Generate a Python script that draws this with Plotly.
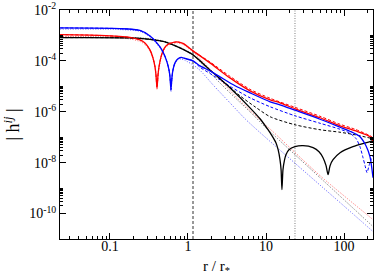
import plotly.graph_objects as go

# ---------------- data ----------------
r_black_solid = [0.023, 0.180, 0.326, 0.507, 0.789, 1.16, 1.91, 3.45, 6.24, 8.38, 10.6, 11.9, 13.4, 14.3,
                 15.1, 15.6, 16.0, 16.5, 17.3, 18.0, 19.7, 23.5, 29.8, 40.1, 47.8, 53.8, 58.8, 62.4,
                 66.2, 72.3, 88.9, 130, 215, 235]
h_black_solid = [8.20e-4, 7.98e-4, 6.97e-4, 5.56e-4, 3.23e-4, 1.72e-4, 4.43e-5, 8.73e-6, 1.43e-6, 5.31e-7,
                 1.97e-7, 1.15e-7, 6.08e-8, 3.23e-8, 1.31e-8, 5.31e-9, 8.73e-10, 5.31e-9, 1.31e-8, 2.06e-8,
                 3.23e-8, 4.24e-8, 4.64e-8, 3.87e-8, 2.70e-8, 1.57e-8, 7.62e-9, 3.38e-9, 7.62e-9, 1.31e-8,
                 2.47e-8, 4.24e-8, 6.66e-8, 7.29e-8]

r_black_dashed = [0.023, 0.180, 0.326, 0.507, 0.789, 1.16, 1.91, 2.98, 4.64, 7.23, 11.3, 23.5, 49.2, 88.9, 138, 235]
h_black_dashed = [8.20e-4, 7.98e-4, 6.97e-4, 5.56e-4, 3.23e-4, 1.72e-4, 4.43e-5, 1.37e-5, 4.24e-6, 1.57e-6,
                  6.37e-7, 3.09e-7, 1.97e-7, 1.57e-7, 1.25e-7, 8.73e-8]

r_black_dotted = [0.023, 0.180, 0.326, 0.507, 0.789, 1.16, 1.91, 3.45, 6.24, 10.3, 49.2, 235]
h_black_dotted = [8.57e-4, 8.35e-4, 7.43e-4, 5.82e-4, 3.38e-4, 1.72e-4, 3.38e-5, 5.56e-6, 1.0e-6, 2.15e-7,
                  2.58e-9, 3.09e-11]

r_red_solid = [0.023, 0.0744, 0.180, 0.242, 0.281, 0.326, 0.356, 0.378, 0.389, 0.401, 0.413, 0.425, 0.451,
               0.478, 0.522, 0.588, 0.723, 0.863, 1.16, 1.91, 3.45, 6.24, 11.3, 15.1, 23.5, 49.2, 88.9,
               138, 215, 235]
h_red_solid = [1.07e-3, 1.0e-3, 8.35e-4, 6.66e-4, 5.08e-4, 2.70e-4, 1.31e-4, 5.82e-5, 2.82e-5, 8.73e-6,
               2.82e-5, 5.82e-5, 1.43e-4, 2.47e-4, 3.87e-4, 4.85e-4, 5.56e-4, 4.85e-4, 2.47e-4, 8.35e-5,
               2.15e-5, 6.66e-6, 2.96e-6, 2.25e-6, 1.31e-6, 5.82e-7, 2.82e-7, 1.80e-7, 1.05e-7, 7.29e-8]

r_red_dashed = [0.023, 0.0744, 0.180, 0.242, 0.281, 0.326, 0.356, 0.378, 0.389, 0.401, 0.413, 0.425, 0.451,
                0.478, 0.522, 0.588, 0.723, 0.863, 1.16, 1.91, 3.45, 6.24, 11.3, 23.5, 49.2, 88.9, 138,
                215, 235]
h_red_dashed = [1.07e-3, 1.0e-3, 8.35e-4, 6.66e-4, 5.08e-4, 2.70e-4, 1.31e-4, 5.82e-5, 2.82e-5, 8.73e-6,
                2.82e-5, 5.82e-5, 1.43e-4, 2.47e-4, 3.87e-4, 4.85e-4, 5.56e-4, 4.85e-4, 2.47e-4, 9.13e-5,
                2.47e-5, 7.62e-6, 3.38e-6, 1.50e-6, 6.66e-7, 3.23e-7, 2.06e-7, 1.15e-7, 9.56e-8]

r_red_dotted = [0.023, 0.0744, 0.180, 0.242, 0.281, 0.326, 0.356, 0.378, 0.389, 0.401, 0.413, 0.425, 0.451,
                0.478, 0.522, 0.588, 0.723, 0.863, 1.16, 1.91, 4.25, 8.89, 12.3, 49.2, 235]
h_red_dotted = [9.13e-4, 8.73e-4, 7.29e-4, 5.82e-4, 4.43e-4, 2.36e-4, 1.20e-4, 5.31e-5, 2.58e-5, 7.29e-6,
                2.58e-5, 5.31e-5, 1.31e-4, 2.25e-4, 3.54e-4, 4.43e-4, 5.08e-4, 4.43e-4, 2.25e-4, 4.85e-5,
                3.54e-6, 4.05e-7, 1.64e-7, 3.09e-9, 5.82e-11]

r_blue_solid = [0.023, 0.134, 0.242, 0.326, 0.438, 0.492, 0.538, 0.571, 0.588, 0.605, 0.624, 0.642, 0.681,
                0.744, 0.813, 0.915, 1.16, 1.43, 1.91, 2.57, 4.01, 6.24, 11.3, 15.1, 23.5, 49.2, 88.9,
                119, 160, 191, 215, 235]
h_blue_solid = [1.97e-3, 1.85e-3, 1.57e-3, 9.56e-4, 3.54e-4, 1.88e-4, 9.13e-5, 4.43e-5, 2.36e-5, 7.29e-6,
                2.36e-5, 4.43e-5, 8.35e-5, 1.20e-4, 1.37e-4, 1.25e-4, 1.0e-4, 6.37e-5, 4.05e-5, 2.36e-5,
                1.05e-5, 5.56e-6, 2.47e-6, 1.88e-6, 1.15e-6, 5.08e-7, 2.47e-7, 1.72e-7, 1.05e-7, 4.64e-8,
                1.72e-8, 2.58e-9]

r_blue_dashed = [0.023, 0.134, 0.242, 0.326, 0.438, 0.492, 0.538, 0.571, 0.588, 0.605, 0.624, 0.642, 0.681,
                 0.744, 0.813, 0.915, 1.16, 1.43, 1.91, 2.57, 3.45, 6.24, 11.3, 23.5, 49.2, 88.9, 119, 143,
                 160, 175, 186, 197, 209, 222, 235]
h_blue_dashed = [1.97e-3, 1.85e-3, 1.57e-3, 9.56e-4, 3.54e-4, 1.88e-4, 9.13e-5, 4.43e-5, 2.36e-5, 7.29e-6,
                 2.36e-5, 4.43e-5, 8.35e-5, 1.20e-4, 1.37e-4, 1.25e-4, 1.0e-4, 5.56e-5, 3.23e-5, 1.80e-5,
                 1.0e-5, 3.54e-6, 1.57e-6, 6.97e-7, 3.54e-7, 2.06e-7, 1.44e-7, 8.73e-8, 4.24e-8, 1.57e-8,
                 7.62e-9, 4.05e-9, 7.62e-9, 1.31e-8, 1.88e-8]

r_blue_dotted = [0.023, 0.134, 0.242, 0.326, 0.438, 0.492, 0.538, 0.571, 0.588, 0.605, 0.624, 0.642, 0.681,
                 0.744, 0.813, 0.915, 1.16, 1.43, 2.09, 3.45, 5.38, 7.89, 27.3, 88.9, 235]
h_blue_dotted = [1.75e-3, 1.70e-3, 1.44e-3, 8.73e-4, 3.23e-4, 1.72e-4, 8.35e-5, 4.05e-5, 2.15e-5, 6.08e-6,
                 2.15e-5, 4.05e-5, 7.62e-5, 1.09e-4, 1.20e-4, 1.05e-4, 6.97e-5, 4.24e-5, 1.15e-5, 2.25e-6,
                 5.31e-7, 1.80e-7, 6.37e-9, 2.70e-10, 1.97e-11]

r_surface = 1.16      # vertical dashed line
r_wave = 23.5         # vertical dotted line

x_tick_vals = [0.1, 1, 10, 100]
x_tick_text = ["0.1", "1", "10", "100"]
y_tick_vals = [1e-2, 1e-4, 1e-6, 1e-8, 1e-10]
y_tick_text = ["10<sup>-2</sup>", "10<sup>-4</sup>", "10<sup>-6</sup>", "10<sup>-8</sup>", "10<sup>-10</sup>"]

x_range = [0.0229, 235]
y_range = [1e-11, 1e-2]

# ---------------- figure ----------------
fig = go.Figure()

fig.add_trace(go.Scatter(x=[r_surface, r_surface], y=y_range, mode="lines",
                         line=dict(color="#333333", width=1, dash="3px,2px"), hoverinfo="skip"))
fig.add_trace(go.Scatter(x=[r_wave, r_wave], y=y_range, mode="lines",
                         line=dict(color="#aaaaaa", width=1.5, dash="1px,1.5px"), hoverinfo="skip"))

def add(r, h, color, width, dash, opacity=1.0):
    fig.add_trace(go.Scatter(x=r, y=h, mode="lines", opacity=opacity,
                             line=dict(color=color, width=width, dash=dash, shape="spline", smoothing=0.7)))

add(r_black_dotted, h_black_dotted, "#000000", 1, "1px,1.5px", 0.6)
add(r_red_dotted, h_red_dotted, "#ff0000", 1, "1px,1.5px", 0.6)
add(r_blue_dotted, h_blue_dotted, "#0000ff", 1, "1px,1.5px", 0.6)
add(r_black_dashed, h_black_dashed, "#000000", 1, "3px,2px")
add(r_red_dashed, h_red_dashed, "#ff0000", 1, "3px,2px")
add(r_blue_dashed, h_blue_dashed, "#0000ff", 1, "3px,2px")
add(r_black_solid, h_black_solid, "#000000", 1.3, "solid")
add(r_red_solid, h_red_solid, "#ff0000", 1.3, "solid")
add(r_blue_solid, h_blue_solid, "#0000ff", 1.3, "solid")

x_minor = [k * 10.0 ** e for e in (-2, -1, 0, 1, 2) for k in range(2, 10)]
x_minor = [v for v in x_minor if x_range[0] < v < x_range[1]]
y_minor = [k * 10.0 ** e for e in (-4, -6, -8, -10) for k in range(2, 11)]

font_family = "Liberation Serif, Times New Roman, serif"

fig.update_layout(
    width=374, height=276,
    margin=dict(l=60, r=1, t=10, b=37),
    paper_bgcolor="white", plot_bgcolor="white",
    showlegend=False, hovermode=False,
    font=dict(family=font_family, color="black", size=14),
    xaxis=dict(type="log", range=[-1.6402, 2.3711], showgrid=False, zeroline=False,
               showline=True, linecolor="black", linewidth=1, mirror="allticks",
               ticks="inside", ticklen=6, tickwidth=1, tickcolor="black",
               tickmode="array", tickvals=x_tick_vals, ticktext=x_tick_text,
               tickfont=dict(size=14, family=font_family), ticklabelstandoff=-6,
               minor=dict(tickmode="array", tickvals=x_minor, ticks="inside", ticklen=3,
                          tickwidth=1, tickcolor="black", showgrid=False),
               title=dict(text="r / r<sub>*</sub>", font=dict(size=15, family=font_family), standoff=7),
               automargin=False),
    yaxis=dict(type="log", range=[-11, -2], showgrid=False, zeroline=False,
               showline=True, linecolor="black", linewidth=1, mirror="allticks",
               ticks="inside", ticklen=6, tickwidth=1, tickcolor="black",
               tickmode="array", tickvals=y_tick_vals, ticktext=y_tick_text,
               tickfont=dict(size=14, family=font_family),
               minor=dict(tickmode="array", tickvals=y_minor, ticks="inside", ticklen=3,
                          tickwidth=1, tickcolor="black", showgrid=False),
               title=dict(text="| h<sup><i>ij</i></sup> |", font=dict(size=18, family=font_family), standoff=4),
               automargin=False),
)

fig.write_html("out.html", config={"displayModeBar": False},
               post_script="document.body.style.margin='0';")
